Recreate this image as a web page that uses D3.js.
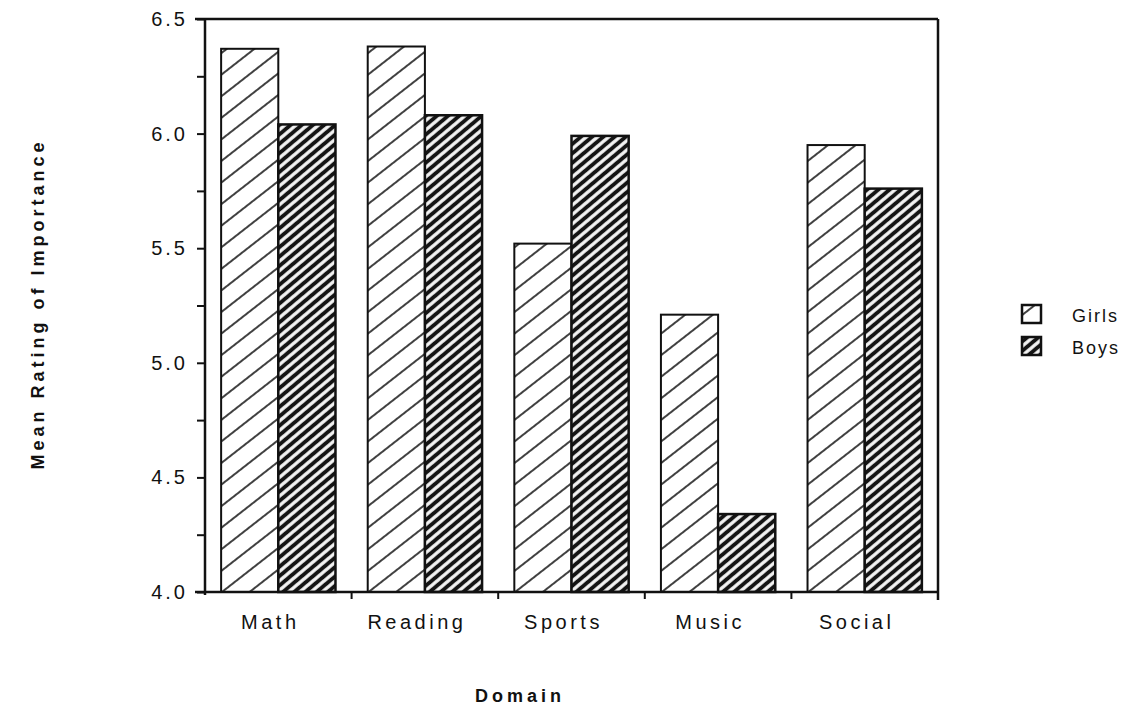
<!DOCTYPE html>
<html lang="en">
<head>
    <meta charset="utf-8">
    <style type="text/css">
        body { margin: 0; background: #fff; }
        svg { display: block; }
        text { font-family: "Liberation Sans", Arial, Helvetica, sans-serif; fill: #111; }
        .tick-label { font-size: 20px; letter-spacing: 3px; }
        .cat-label { font-size: 20px; letter-spacing: 3.5px; }
        .axis-title { font-size: 18px; font-weight: bold; letter-spacing: 4px; }
        .legend-label { font-size: 18px; letter-spacing: 2px; }
        .frame { stroke: #111; stroke-width: 2.5px; fill: none; }
    </style>
</head>
<body>
<div id="chart"></div>
<script src="https://d3js.org/d3.v7.min.js"></script>
<script type="text/javascript">
    // values
    var categories = ["Math", "Reading", "Sports", "Music", "Social"];
    var girls = [6.37, 6.38, 5.52, 5.21, 5.95];
    var boys = [6.04, 6.08, 5.99, 4.34, 5.76];
    var seriesNames = ["Girls", "Boys"];
    var yTicks = [4.0, 4.5, 5.0, 5.5, 6.0, 6.5];

    // note: "top" is taken by window.top, so plot edges get their own names
    var width = 1137,
        height = 713,
        plotLeft = 205,
        plotRight = 938,
        plotTop = 19,
        plotBottom = 592;

    var svg = d3.select("#chart").append("svg")
        .attr("width", width)
        .attr("height", height);

    var defs = svg.append("defs");

    // light hatch for girls
    var pg = defs.append("pattern")
        .attr("id", "hatch-girls")
        .attr("patternUnits", "userSpaceOnUse")
        .attr("width", 17).attr("height", 17)
        .attr("patternTransform", "rotate(-38)");
    pg.append("rect").attr("width", 17).attr("height", 17).attr("fill", "#fff");
    pg.append("line").attr("x1", 0).attr("x2", 17).attr("y1", 8).attr("y2", 8)
        .attr("stroke", "#111").attr("stroke-width", 1.6);

    // dense dark hatch for boys
    var pb = defs.append("pattern")
        .attr("id", "hatch-boys")
        .attr("patternUnits", "userSpaceOnUse")
        .attr("width", 7.2).attr("height", 7.2)
        .attr("patternTransform", "rotate(-40)");
    pb.append("rect").attr("width", 7.2).attr("height", 7.2).attr("fill", "#f4f4f4");
    pb.append("line").attr("x1", 0).attr("x2", 7.2).attr("y1", 3.6).attr("y2", 3.6)
        .attr("stroke", "#141414").attr("stroke-width", 3.9);

    var fills = ["url(#hatch-girls)", "url(#hatch-boys)"];

    var x0 = d3.scaleBand()
        .domain(categories)
        .range([plotLeft, plotRight])
        .paddingInner(0.22)
        .paddingOuter(0.11);

    var x1 = d3.scaleBand()
        .domain(seriesNames)
        .range([0, x0.bandwidth()]);

    var y = d3.scaleLinear()
        .domain([4.0, 6.5])
        .range([plotBottom, plotTop]);

    var rows = categories.map(function (c, i) {
        return { cat: c, values: [girls[i], boys[i]] };
    });

    // bars
    var groups = svg.selectAll(".group")
        .data(rows)
        .enter().append("g")
        .attr("class", "group")
        .attr("transform", function (d) { return "translate(" + x0(d.cat) + ",0)"; });

    groups.selectAll("rect")
        .data(function (d) {
            return d.values.map(function (v, j) { return { name: seriesNames[j], value: v, j: j }; });
        })
        .enter().append("rect")
        .attr("x", function (d) { return x1(d.name); })
        .attr("y", function (d) { return y(d.value); })
        .attr("width", x1.bandwidth())
        .attr("height", function (d) { return plotBottom - y(d.value); })
        .attr("fill", function (d) { return fills[d.j]; })
        .attr("stroke", "#111")
        .attr("stroke-width", function (d) { return d.j === 0 ? 2 : 2.5; });

    // frame
    svg.append("line").attr("class", "frame")
        .attr("x1", plotLeft - 10).attr("x2", plotRight).attr("y1", plotTop).attr("y2", plotTop);
    svg.append("line").attr("class", "frame")
        .attr("x1", plotLeft - 10).attr("x2", plotRight).attr("y1", plotBottom).attr("y2", plotBottom);
    svg.append("line").attr("class", "frame")
        .attr("x1", plotLeft).attr("x2", plotLeft).attr("y1", plotTop).attr("y2", plotBottom + 3);
    svg.append("line").attr("class", "frame")
        .attr("x1", plotRight).attr("x2", plotRight).attr("y1", plotTop).attr("y2", plotBottom + 8);

    // y axis ticks and labels
    var yAxis = d3.axisLeft(y)
        .tickValues(d3.range(4.0, 6.51, 0.25))
        .tickSize(8)
        .tickFormat("");
    var ya = svg.append("g")
        .attr("transform", "translate(" + plotLeft + ",0)")
        .call(yAxis);
    ya.select(".domain").remove();
    ya.selectAll(".tick line").attr("stroke", "#111").attr("stroke-width", 2);

    svg.selectAll(".tick-label")
        .data(yTicks)
        .enter().append("text")
        .attr("class", "tick-label")
        .attr("x", plotLeft - 17)
        .attr("y", function (d) { return y(d) + 7; })
        .attr("text-anchor", "end")
        .text(function (d) { return d.toFixed(1); });

    // x ticks at category boundaries
    var bounds = categories.slice(1).map(function (c) {
        return x0(c) - x0.step() * x0.paddingInner() / 2;
    });
    svg.selectAll(".xtick")
        .data(bounds)
        .enter().append("line")
        .attr("class", "xtick")
        .attr("x1", function (d) { return d; })
        .attr("x2", function (d) { return d; })
        .attr("y1", plotBottom)
        .attr("y2", plotBottom + 7)
        .attr("stroke", "#111")
        .attr("stroke-width", 2);

    svg.selectAll(".cat-label")
        .data(categories)
        .enter().append("text")
        .attr("class", "cat-label")
        .attr("x", function (d) { return x0(d) + x0.bandwidth() / 2 - 8; })
        .attr("y", 629)
        .attr("text-anchor", "middle")
        .text(function (d) { return d; });

    // axis titles
    svg.append("text")
        .attr("class", "axis-title")
        .attr("x", 520)
        .attr("y", 702)
        .attr("text-anchor", "middle")
        .text("Domain");

    svg.append("text")
        .attr("class", "axis-title")
        .attr("transform", "translate(44,304) rotate(-90)")
        .attr("text-anchor", "middle")
        .text("Mean Rating of Importance");

    // legend
    var legend = svg.selectAll(".legend")
        .data(seriesNames)
        .enter().append("g")
        .attr("class", "legend")
        .attr("transform", function (d, i) { return "translate(1022," + (305 + i * 32) + ")"; });

    legend.append("rect")
        .attr("width", 19)
        .attr("height", 18)
        .attr("fill", function (d, i) { return fills[i]; })
        .attr("stroke", "#111")
        .attr("stroke-width", 2.5);

    legend.append("text")
        .attr("class", "legend-label")
        .attr("x", 50)
        .attr("y", 17)
        .text(function (d) { return d; });
</script>
</body>
</html>
